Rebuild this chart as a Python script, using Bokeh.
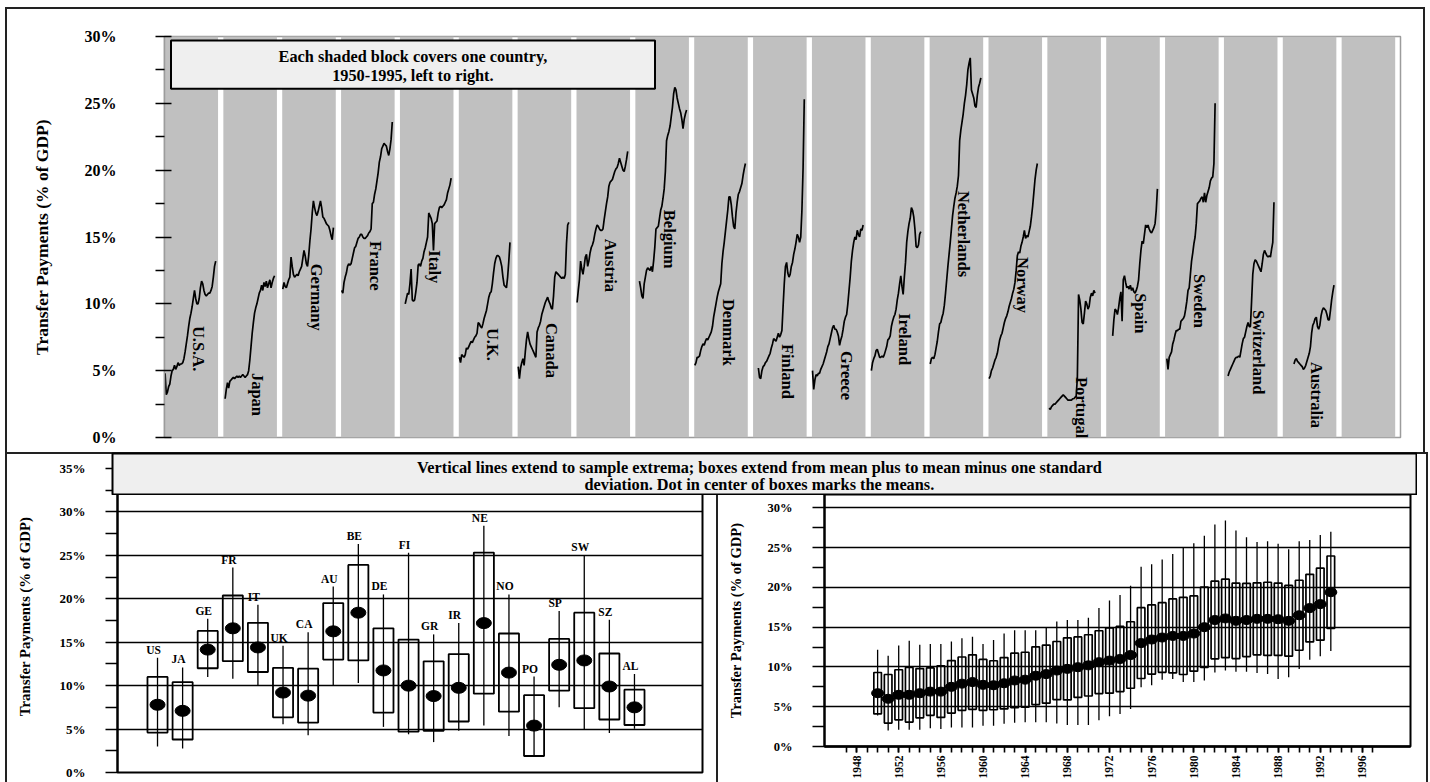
import math

from bokeh.core.properties import value
from bokeh.embed import file_html
from bokeh.layouts import column, row
from bokeh.models import ColumnDataSource, FixedTicker, PrintfTickFormatter, Range1d
from bokeh.plotting import figure
from bokeh.resources import INLINE

FONT = "Liberation Serif"

# ---------------------------------------------------------------- data
country_names = ["U.S.A.", "Japan", "Germany", "France", "Italy", "U.K.", "Canada",
                 "Austria", "Belgium", "Denmark", "Finland", "Greece", "Ireland",
                 "Netherlands", "Norway", "Portugal", "Spain", "Sweden",
                 "Switzerland", "Australia"]
country_codes = ["US", "JA", "GE", "FR", "IT", "UK", "CA", "AU", "BE", "DE", "FI",
                 "GR", "IR", "NE", "NO", "PO", "SP", "SW", "SZ", "AL"]
first_year = [1950, 1951, 1950, 1950, 1954, 1950, 1950, 1950, 1953, 1950, 1954,
              1950, 1950, 1950, 1950, 1951, 1955, 1951, 1953, 1959]

# transfer payments, % of GDP, one value per year from first_year on
usa = [4.8, 3.2, 3.4, 3.8, 4.0, 4.6, 5.0, 5.1, 5.4, 5.1, 5.3, 5.6, 5.4, 5.5, 5.5,
       5.6, 5.9, 6.4, 7.0, 7.6, 8.3, 8.9, 9.3, 9.8, 10.4, 11.0, 10.4, 10.0, 10.0,
       10.4, 11.2, 11.7, 11.5, 11.0, 10.7, 10.6, 10.7, 10.8, 10.8, 11.0, 11.3, 12.0,
       12.8, 13.2]
japan = [2.9, 3.6, 4.1, 3.7, 4.2, 4.3, 4.4, 4.5, 4.4, 4.5, 4.6, 4.5, 4.6, 4.5, 4.6,
         4.7, 4.6, 4.5, 4.6, 4.7, 5.0, 5.8, 6.8, 7.8, 8.6, 9.3, 9.7, 10.0, 10.4, 10.8,
         11.0, 11.4, 11.0, 11.6, 11.3, 11.7, 11.2, 11.5, 11.8, 11.2, 11.6, 11.9, 12.1]
germany = [11.1, 11.6, 11.3, 11.2, 11.5, 11.8, 12.0, 13.5, 12.8, 12.2, 12.0, 12.1,
           12.2, 12.1, 12.4, 12.6, 12.8, 13.4, 14.0, 13.6, 13.0, 12.8, 13.6, 14.7,
           15.6, 16.8, 17.7, 17.2, 16.8, 16.6, 16.9, 17.3, 17.7, 17.2, 16.5, 16.4,
           16.2, 16.0, 15.9, 15.8, 15.5, 15.1, 14.8, 15.7]
france = [11.0, 10.8, 11.6, 12.0, 12.3, 12.8, 13.0, 12.9, 13.0, 13.4, 13.8, 14.2,
          14.3, 14.6, 14.9, 15.0, 15.2, 15.2, 15.0, 14.9, 14.9, 15.0, 15.1, 15.3,
          15.4, 15.6, 17.5, 17.6, 18.2, 18.6, 19.2, 19.8, 20.6, 21.0, 21.6, 21.8,
          22.0, 21.9, 21.8, 21.4, 21.1, 21.6, 22.3, 23.6]
italy = [10.0, 10.4, 10.8, 10.7, 11.5, 12.6, 10.3, 10.2, 10.3, 10.9, 11.6, 12.9,
         13.0, 12.8, 13.2, 13.4, 13.9, 14.2, 14.6, 15.0, 16.8, 16.6, 16.4, 16.0,
         14.0, 16.0, 16.1, 16.2, 16.8, 17.2, 17.3, 17.2, 17.3, 17.4, 17.6, 17.8,
         18.3, 18.6, 18.9, 19.4]
uk = [6.0, 5.6, 6.2, 6.1, 6.0, 6.2, 6.7, 6.6, 6.8, 7.0, 7.2, 7.1, 7.3, 7.5, 7.6,
      7.8, 8.6, 8.5, 8.3, 8.2, 8.5, 8.9, 9.2, 9.5, 10.0, 10.5, 10.8, 10.9, 11.5,
      12.3, 13.0, 13.4, 13.6, 13.6, 13.5, 13.2, 12.8, 12.0, 11.4, 11.3, 11.2, 12.0,
      13.2, 14.6]
canada = [5.3, 4.4, 5.2, 5.6, 5.9, 5.4, 6.4, 7.3, 7.9, 7.4, 7.0, 6.8, 6.6, 6.4, 6.2,
          6.0, 7.9, 8.2, 8.4, 8.7, 9.2, 9.5, 9.8, 10.1, 10.3, 10.5, 10.2, 10.0, 9.7,
          9.6, 10.6, 12.0, 12.4, 12.3, 12.2, 12.1, 12.0, 11.9, 12.0, 11.9, 12.2,
          14.5, 15.9, 16.1]
austria = [10.1, 11.0, 11.8, 13.2, 12.6, 12.2, 12.8, 13.5, 13.7, 12.8, 13.2, 13.8,
           14.2, 14.4, 14.7, 15.2, 15.6, 15.9, 15.8, 15.6, 15.5, 15.5, 15.6, 16.3,
           16.9, 17.5, 18.0, 18.8, 19.1, 19.2, 19.3, 19.6, 19.9, 20.1, 20.2, 20.5,
           20.9, 20.6, 20.3, 20.0, 19.9, 20.3, 20.8, 21.4]
belgium = [11.7, 11.2, 10.6, 10.4, 11.5, 12.0, 12.5, 12.7, 12.6, 12.5, 12.8, 12.4,
           13.2, 14.2, 15.6, 15.7, 15.8, 16.4, 17.0, 17.3, 17.9, 18.6, 19.9, 22.2,
           22.6, 22.9, 23.3, 24.0, 24.7, 25.7, 26.2, 26.0, 25.4, 25.0, 24.6, 24.3,
           23.8, 23.1, 23.8, 24.2, 24.5]
denmark = [5.4, 5.6, 6.0, 6.0, 6.1, 6.5, 6.8, 7.0, 6.9, 7.2, 7.4, 7.3, 7.5, 7.7,
           7.9, 8.3, 9.0, 9.5, 10.0, 10.5, 10.9, 11.2, 11.5, 13.0, 13.9, 14.6, 15.4,
           16.2, 17.0, 18.0, 18.0, 17.4, 16.5, 15.8, 15.6, 16.8, 17.6, 18.2, 18.4,
           18.7, 19.0, 19.6, 20.1, 20.5]
finland = [5.2, 4.5, 4.4, 5.0, 5.3, 5.4, 5.6, 5.7, 5.9, 6.1, 6.3, 6.7, 7.0, 7.4,
           7.3, 7.2, 7.5, 7.8, 7.5, 7.7, 8.0, 9.8, 11.5, 12.8, 13.1, 12.3, 12.0, 12.2,
           12.8, 13.1, 13.7, 14.1, 14.6, 15.2, 15.0, 14.6, 15.0, 17.0, 20.2, 25.3]
greece = [5.0, 3.6, 4.3, 4.7, 4.6, 4.8, 4.8, 5.1, 5.3, 5.5, 5.8, 6.1, 6.4, 6.8, 7.0,
          7.4, 7.8, 8.2, 8.4, 8.1, 8.1, 7.9, 7.6, 6.9, 7.3, 7.6, 8.1, 8.7, 9.0, 9.2,
          10.0, 11.0, 12.0, 13.2, 14.0, 14.6, 15.0, 14.8, 15.5, 15.2, 15.0, 15.6,
          15.5, 15.9]
ireland = [5.0, 5.6, 5.9, 6.1, 6.5, 6.6, 6.3, 6.0, 6.0, 6.1, 6.0, 6.2, 6.5, 6.8,
           7.3, 7.4, 7.6, 8.3, 8.7, 9.0, 9.2, 9.6, 10.3, 10.8, 11.5, 12.1, 11.3, 10.7,
           12.0, 13.1, 14.6, 15.4, 16.0, 16.4, 17.2, 17.0, 16.5, 15.6, 14.3, 14.2,
           14.4, 15.2, 15.4]
netherlands = [5.5, 5.9, 6.0, 5.9, 6.2, 6.7, 7.2, 7.9, 8.5, 8.6, 9.0, 9.3, 9.9, 10.8,
               11.8, 12.8, 13.7, 14.6, 15.6, 16.6, 17.3, 17.9, 18.3, 18.8, 19.6, 22.2,
               23.0, 23.6, 24.2, 25.0, 25.6, 26.4, 27.5, 28.0, 28.4, 26.0, 25.7, 25.4,
               24.8, 24.7, 25.6, 26.2, 26.5, 26.9]
norway = [4.4, 4.6, 5.0, 5.2, 5.5, 5.8, 6.0, 6.3, 6.8, 7.3, 7.6, 7.8, 8.2, 8.6, 8.9,
          9.1, 9.4, 9.8, 10.1, 10.4, 10.8, 11.1, 11.6, 12.5, 13.6, 13.9, 13.8, 14.3,
          14.6, 15.0, 15.5, 14.9, 15.1, 15.0, 15.4, 15.8, 16.5, 17.3, 18.3, 19.3,
          20.0, 20.5]
portugal = [2.2, 2.1, 2.3, 2.4, 2.5, 2.5, 2.6, 2.7, 2.8, 2.9, 3.0, 3.1, 3.2, 3.1, 3.0,
            2.9, 2.8, 2.8, 2.8, 2.8, 2.9, 2.9, 3.0, 3.1, 4.5, 10.7, 10.3, 9.6, 8.6,
            8.5, 9.3, 10.2, 10.0, 9.6, 9.8, 10.5, 10.8, 10.6, 11.0, 10.8]
spain = [7.6, 8.8, 9.6, 9.5, 9.2, 9.7, 10.4, 10.9, 8.7, 11.8, 12.1, 11.6, 11.2, 11.3,
         11.1, 11.4, 11.0, 11.2, 10.9, 10.8, 11.0, 11.3, 11.8, 13.0, 14.0, 14.7, 14.5,
         15.2, 15.9, 15.7, 15.9, 15.6, 15.4, 15.3, 15.5, 15.7, 16.0, 17.0, 18.6]
sweden = [5.9, 5.1, 6.0, 6.2, 6.4, 7.0, 7.3, 7.7, 8.0, 8.0, 8.1, 8.1, 8.7, 8.8, 8.9,
          9.1, 9.6, 10.2, 11.0, 11.2, 12.2, 13.2, 13.8, 14.5, 15.0, 16.0, 17.5, 17.6,
          17.7, 17.9, 18.0, 17.6, 18.3, 17.6, 18.1, 18.4, 18.7, 19.2, 19.4, 19.5,
          20.5, 25.0]
switzerland = [4.6, 4.9, 5.1, 5.3, 5.5, 5.7, 5.9, 6.0, 6.0, 6.1, 6.0, 6.5, 7.0, 7.4,
               7.5, 7.9, 8.3, 8.6, 8.3, 8.3, 10.2, 12.2, 13.0, 13.3, 13.2, 13.0, 12.8,
               12.6, 12.4, 13.0, 13.7, 14.0, 13.8, 13.6, 13.5, 13.6, 13.5, 14.1, 14.6,
               17.6]
australia = [5.5, 5.8, 5.9, 5.7, 5.6, 5.5, 5.4, 5.3, 5.1, 5.2, 5.4, 5.7, 6.0, 6.3,
             6.8, 7.8, 8.4, 8.6, 8.9, 9.0, 8.3, 8.1, 8.4, 9.1, 9.5, 9.7, 9.6, 9.5, 9.2,
             8.8, 8.8, 9.5, 10.3, 10.9, 11.4]

country_series = [usa, japan, germany, france, italy, uk, canada, austria, belgium,
                  denmark, finland, greece, ireland, netherlands, norway, portugal,
                  spain, sweden, switzerland, australia]

# where each rotated country name starts (value axis, %)
name_label_y = [8.35, 4.83, 13.0, 14.7, 14.0, 8.2, 8.57, 14.86, 17.03, 10.37, 7.0,
                6.47, 9.3, 18.45, 13.5, 4.53, 10.8, 12.24, 9.54, 5.65]

# per-country summary statistics, 1950-1995
country_mean = [7.8, 7.1, 14.15, 16.6, 14.4, 9.2, 8.85, 16.25, 18.4, 11.75, 10.0,
                8.8, 9.75, 17.2, 11.5, 5.4, 12.4, 12.9, 9.9, 7.5]
country_sd = [3.2, 3.3, 2.15, 3.78, 2.83, 2.85, 3.1, 3.25, 5.5, 4.85, 5.3, 4.0,
              3.88, 8.12, 4.5, 3.5, 2.98, 5.5, 3.8, 2.03]
country_max = [13.2, 12.1, 17.7, 23.6, 19.3, 14.6, 16.15, 21.4, 26.3, 20.5, 25.3,
               15.9, 17.2, 28.4, 20.5, 11.05, 18.6, 25.05, 17.6, 11.35]
country_min = [3.0, 2.75, 11.0, 10.8, 9.95, 5.55, 4.3, 9.95, 10.3, 5.25, 4.4, 3.5,
               4.8, 5.4, 4.2, 1.9, 7.5, 5.0, 4.55, 5.05]

# per-year summary statistics across the 20 countries
years = list(range(1950, 1994))
year_mean = [6.7, 6.0, 6.5, 6.5, 6.7, 6.9, 6.9, 7.5, 7.9, 8.1, 7.75, 7.7, 7.95, 8.3,
             8.4, 8.9, 9.1, 9.55, 9.76, 9.97, 10.2, 10.6, 10.8, 11.0, 11.5, 13.0,
             13.45, 13.7, 13.9, 13.9, 14.2, 15.0, 15.9, 16.1, 15.8, 15.9, 16.05,
             16.05, 16.0, 15.8, 16.5, 17.4, 17.9, 19.4]
year_sd = [2.6, 3.05, 3.15, 3.43, 3.1, 2.98, 3.25, 3.3, 3.35, 3.43, 3.2, 3.08, 3.23,
           3.43, 3.45, 3.63, 3.65, 3.65, 3.9, 3.8, 3.85, 3.95, 4.1, 4.1, 4.18, 4.45,
           4.35, 4.38, 4.65, 4.85, 4.73, 5.05, 4.88, 4.93, 4.75, 4.6, 4.53, 4.6, 4.55,
           4.45, 4.4, 4.25, 4.53, 4.55]
year_max = [12.15, 11.4, 12.7, 13.3, 12.8, 12.9, 12.9, 13.2, 13.6, 13.8, 12.9, 13.4,
            14.2, 14.6, 14.6, 14.6, 15.0, 15.7, 15.9, 15.9, 16.2, 17.4, 18.35, 19.06,
            20.2, 22.6, 22.9, 23.5, 24.2, 25.05, 25.55, 26.5, 27.9, 28.4, 27.15, 26.3,
            25.7, 25.8, 25.5, 24.8, 25.8, 25.97, 26.6, 27.0]
year_min = [3.9, 2.0, 2.1, 2.1, 2.1, 2.3, 2.2, 2.4, 2.4, 2.4, 2.6, 2.6, 2.85, 3.0,
            3.05, 3.05, 3.05, 2.9, 2.7, 2.7, 2.7, 3.3, 3.8, 4.1, 4.7, 7.45, 7.7, 8.4,
            8.5, 8.1, 8.1, 8.3, 9.3, 9.55, 9.4, 9.4, 9.25, 9.1, 8.5, 8.7, 9.75, 10.9,
            11.35, 12.0]

AXIS_TITLE = "Transfer Payments (% of GDP)"
BLOCK = 50         # x units reserved for each country block
BLOCK_FILL = 45.5  # shaded part of a block


def bold_text(p, src, size, **kw):
    return p.text(x="x", y="y", text="text", source=src, text_font=value(FONT),
                  text_font_style="bold", text_font_size=size, text_color="black",
                  **kw)


def style_value_axis(ax, ticks, minor, label_size, tick_out, standoff, title_size,
                     title_standoff):
    ax.ticker = FixedTicker(ticks=ticks, minor_ticks=minor)
    ax.formatter = PrintfTickFormatter(format="%d%%")
    ax.major_label_text_font = FONT
    ax.major_label_text_font_style = "bold"
    ax.major_label_text_font_size = label_size
    ax.major_label_text_color = "black"
    ax.major_tick_out = tick_out
    ax.minor_tick_out = tick_out
    ax.minor_tick_in = 0
    ax.major_tick_line_color = "black"
    ax.minor_tick_line_color = "black"
    ax.major_tick_line_width = 1.6
    ax.minor_tick_line_width = 1.4
    ax.major_label_standoff = standoff
    ax.axis_label = AXIS_TITLE
    ax.axis_label_text_font = FONT
    ax.axis_label_text_font_style = "bold"
    ax.axis_label_text_font_size = title_size
    ax.axis_label_text_color = "black"
    ax.axis_label_standoff = title_standoff


def make_fig(**kw):
    return figure(output_backend="svg", toolbar_location=None, frame_align=False, **kw)


# ---------------------------------------------------------------- top panel
top = make_fig(width=1416, height=443, x_range=Range1d(0, 1050), y_range=Range1d(0, 30),
               x_axis_location=None, min_border_left=157, min_border_right=23,
               min_border_top=27, min_border_bottom=15)
top.xgrid.visible = False
top.ygrid.visible = False
top.outline_line_color = "#9c9c9c"
top.outline_line_width = 1.5
style_value_axis(top.yaxis[0], [0, 5, 10, 15, 20, 25, 30],
                 [2.5, 7.5, 12.5, 17.5, 22.5, 27.5], "16px", 9, 39, "17.5px", 30)
top.yaxis[0].major_tick_in = 7
top.yaxis[0].axis_line_color = "#9c9c9c"
top.yaxis[0].axis_line_width = 1.5

n_blocks = len(country_names) + 1
block_left = [BLOCK * i for i in range(n_blocks)]
top.quad(left=block_left, right=[b + BLOCK_FILL for b in block_left],
         bottom=0, top=30, fill_color="#c0c0c0", line_color=None)

for i, series in enumerate(country_series):
    xs = [BLOCK * i + 0.5 + (first_year[i] - 1950) + k for k in range(len(series))]
    top.line(xs, series, line_color="black", line_width=1.7)

names_src = ColumnDataSource(dict(x=[BLOCK * i + 29 for i in range(len(country_names))],
                                  y=name_label_y, text=country_names))
bold_text(top, names_src, "16.5px", angle=-math.pi / 2, text_align="left",
          text_baseline="middle")

top.quad(left=[5.5], right=[416.7], bottom=[26.1], top=[29.7], fill_color="#efefef",
         line_color="black", line_width=2)
note_src = ColumnDataSource(dict(x=[211, 211], y=[28.5, 27.08],
                                 text=["Each shaded block covers one country,",
                                       "1950-1995, left to right."]))
bold_text(top, note_src, "16.3px", text_align="center", text_baseline="middle")

# ---------------------------------------------------------------- by country
bl = make_fig(width=709, height=328, x_range=Range1d(-0.594, 22.71),
              y_range=Range1d(0, 35.92), x_axis_location=None, min_border_left=110,
              min_border_right=14, min_border_top=6, min_border_bottom=10)
bl.xgrid.visible = False
bl.ygrid.ticker = FixedTicker(ticks=[5, 10, 15, 20, 25, 30])
bl.ygrid.grid_line_color = "black"
bl.ygrid.grid_line_width = 1.6
bl.outline_line_color = "black"
bl.outline_line_width = 2
style_value_axis(bl.yaxis[0], [0, 5, 10, 15, 20, 25, 30, 35],
                 [2.5, 7.5, 12.5, 17.5, 22.5, 27.5, 32.5], "13px", 12, 20, "14.8px", 24)
bl.yaxis[0].major_tick_in = 0
bl.yaxis[0].axis_line_width = 2

cx = [i + 1 for i in range(len(country_codes))]
csrc = ColumnDataSource(dict(
    x=cx, mean=country_mean,
    hi=[m + s for m, s in zip(country_mean, country_sd)],
    lo=[m - s for m, s in zip(country_mean, country_sd)],
    left=[x - 0.4 for x in cx], right=[x + 0.4 for x in cx],
    ymax=country_max, ymin=country_min))
bl.segment(x0="x", y0="ymin", x1="x", y1="ymax", source=csrc, line_color="black",
           line_width=1.3)
bl.quad(left="left", right="right", bottom="lo", top="hi", source=csrc,
        fill_color=None, line_color="black", line_width=1.8)
bl.ellipse(x="x", y="mean", width=15, height=11, width_units="screen",
           height_units="screen", source=csrc, fill_color="black", line_color="black")
code_src = ColumnDataSource(dict(x=cx, y=country_max, text=country_codes))
bold_text(bl, code_src, "11.5px", text_align="center", text_baseline="bottom",
          x_offset=-4, y_offset=-2)

# ---------------------------------------------------------------- by year
br = make_fig(width=708, height=328, x_range=Range1d(1944.96, 2000.56),
              y_range=Range1d(0, 31.68), min_border_left=106, min_border_right=16,
              min_border_top=40, min_border_bottom=36)
br.xgrid.visible = False
br.ygrid.ticker = FixedTicker(ticks=[5, 10, 15, 20, 25, 30])
br.ygrid.grid_line_color = "black"
br.ygrid.grid_line_width = 1.6
br.outline_line_color = "black"
br.outline_line_width = 2
style_value_axis(br.yaxis[0], [0, 5, 10, 15, 20, 25, 30],
                 [2.5, 7.5, 12.5, 17.5, 22.5, 27.5], "12.5px", 12, 20, "14.5px", 21)
br.yaxis[0].major_tick_in = 0
br.yaxis[0].axis_line_width = 2

xa = br.xaxis[0]
xa.ticker = FixedTicker(ticks=list(range(1948, 1997, 4)),
                        minor_ticks=list(range(1947, 1998)))
xa.major_label_orientation = math.pi / 2
xa.major_label_text_font = FONT
xa.major_label_text_font_style = "bold"
xa.major_label_text_font_size = "11.5px"
xa.major_label_text_color = "black"
xa.major_tick_out = 6
xa.major_tick_in = 0
xa.minor_tick_out = 6
xa.minor_tick_in = 0
xa.major_tick_line_color = "black"
xa.minor_tick_line_color = "black"
xa.major_tick_line_width = 1.6
xa.minor_tick_line_width = 1.6
xa.axis_line_color = "black"
xa.axis_line_width = 2.5
xa.major_label_standoff = 3

ysrc = ColumnDataSource(dict(
    x=years, mean=year_mean,
    hi=[m + s for m, s in zip(year_mean, year_sd)],
    lo=[m - s for m, s in zip(year_mean, year_sd)],
    left=[y - 0.36 for y in years], right=[y + 0.36 for y in years],
    ymax=year_max, ymin=year_min))
br.segment(x0="x", y0="ymin", x1="x", y1="ymax", source=ysrc, line_color="black",
           line_width=1.3)
br.quad(left="left", right="right", bottom="lo", top="hi", source=ysrc,
        fill_color=None, line_color="black", line_width=1.7)
br.ellipse(x="x", y="mean", width=12, height=9, width_units="screen",
           height_units="screen", source=ysrc, fill_color="black", line_color="black")

# ---------------------------------------------------------------- shared caption
banner = make_fig(width=1306, height=43, x_range=Range1d(0, 1304), y_range=Range1d(0, 41),
                  x_axis_location=None, y_axis_location=None, min_border_left=1,
                  min_border_right=1, min_border_top=1, min_border_bottom=1)
banner.xgrid.visible = False
banner.ygrid.visible = False
banner.background_fill_color = "#efefef"
banner.border_fill_alpha = 0
banner.outline_line_color = "black"
banner.outline_line_width = 2
cap_src = ColumnDataSource(dict(
    x=[647, 647], y=[27, 10],
    text=["Vertical lines extend to sample extrema; boxes extend from mean plus to "
          "mean minus one standard",
          "deviation. Dot in center of boxes marks the means."]))
bold_text(banner, cap_src, "16.3px", text_align="center", text_baseline="middle")

# ---------------------------------------------------------------- layout
panel_border = {"outline": "2px solid #222222"}
top.styles = panel_border
bl.styles = panel_border
br.styles = panel_border
top.margin = (9, 0, 0, 7)
br.margin = (0, 0, 0, 2)
bottom = row(bl, br)
bottom.margin = (2, 0, 0, 7)
banner.margin = (452 - 782, 0, 0, 111)

page = column(top, bottom, banner)
open("out.html", "w").write(file_html(page, INLINE))
